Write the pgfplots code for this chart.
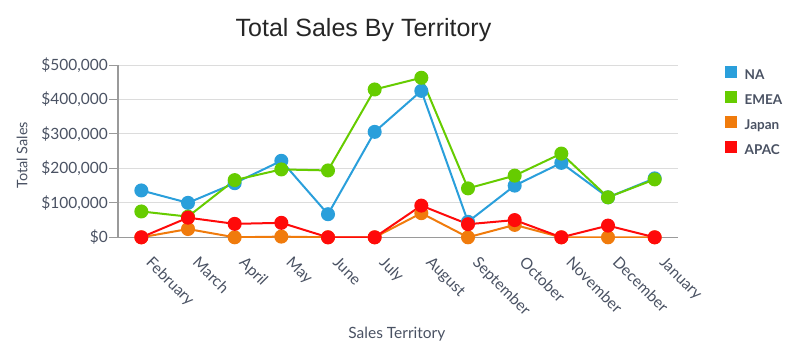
\documentclass[border=0pt]{standalone}
\usepackage{pgfplots}
\pgfplotsset{compat=1.18}
\usepackage{fontspec}
\setmainfont{Lato}
\newfontfamily\titlefont{Liberation Sans}
\definecolor{cNA}{HTML}{2A9FDB}
\definecolor{cEMEA}{HTML}{66CC00}
\definecolor{cJP}{HTML}{F07B0C}
\definecolor{cAPAC}{HTML}{FF0A0A}
\definecolor{txt}{HTML}{4A5263}
\definecolor{gridc}{HTML}{DCDCDC}
\definecolor{axc}{HTML}{9A9A9A}
\begin{document}
\begin{tikzpicture}
\begin{axis}[
  scale only axis, width=560pt, height=172.3pt,
  xmin=-0.5, xmax=11.5, ymin=0, ymax=500000,
  scaled y ticks=false,
  axis x line*=bottom, axis y line*=left,
  axis line style={axc, line width=1.2pt, -},
  xtick={0,...,11},
  xticklabels={February,March,April,May,June,July,August,September,October,November,December,January},
  xtick style={draw=none},
  minor xtick={0.5,1.5,...,10.5},
  minor tick style={axc, line width=1pt},
  ytick={0,100000,200000,300000,400000,500000},
  yticklabels={{\$0},{\$100,000},{\$200,000},{\$300,000},{\$400,000},{\$500,000}},
  ytick style={axc, line width=1pt},
  tick align=outside, major tick length=9pt, minor tick length=7pt,
  ymajorgrids, grid style={gridc, line width=1pt},
  ticklabel style={font=\fontsize{15.5}{17}\selectfont, text=txt},
  yticklabel style={inner sep=0pt, xshift=-1pt},
  xticklabel style={inner sep=0pt, xshift=12pt, yshift=-9pt, rotate=-45, anchor=north west},
  xlabel={Sales Territory},
  xlabel style={at={(axis description cs:0.498,-0.59)}, anchor=base, font=\fontsize{15.5}{17}\selectfont, text=txt},
  ylabel={Total Sales},
  ylabel style={at={(axis description cs:-0.162,0.476)}, anchor=base, rotate=0, font=\fontsize{14.5}{16}\selectfont, text=txt},
  legend style={at={(axis description cs:1,1)}, anchor=north west, xshift=47pt, yshift=-1pt,
    draw=none, fill=none, inner sep=0pt,
    nodes={inner sep=0pt, text height=10.5pt, text depth=3pt, font=\bfseries\fontsize{13.5}{15}\selectfont, text=txt},
    row sep=8.2pt, /tikz/every odd column/.append style={column sep=8pt}},
  legend cell align=left,
  legend image code/.code={\fill[#1, draw=none] (0pt,-1.5pt) rectangle (11.5pt,10pt);},
  every axis plot/.append style={line width=2pt, mark=*, mark size=6pt, mark options={solid}},
]
\addplot[cNA] coordinates {(0,136000) (1,100000) (2,157000) (3,222000) (4,67000) (5,306000) (6,425000) (7,45000) (8,150000) (9,216000) (10,116000) (11,171000)};
\addlegendentry{NA}
\addplot[cEMEA] coordinates {(0,75000) (1,60000) (2,166000) (3,197000) (4,194000) (5,429000) (6,463000) (7,142000) (8,179000) (9,243000) (10,116000) (11,168000)};
\addlegendentry{EMEA}
\addplot[cJP] coordinates {(0,0) (1,24000) (2,0) (3,2000) (4,0) (5,0) (6,70000) (7,0) (8,36000) (9,0) (10,0) (11,0)};
\addlegendentry{Japan}
\addplot[cAPAC] coordinates {(0,0) (1,57000) (2,39000) (3,42000) (4,0) (5,0) (6,92000) (7,38000) (8,50000) (9,0) (10,34000) (11,0)};
\addlegendentry{APAC}
\end{axis}
\node[font=\titlefont\fontsize{25}{28}\selectfont, text=black!85, anchor=base] at (245.5pt,200.3pt) {Total Sales By Territory};
\path[use as bounding box] (-118pt,-113.7pt) rectangle (682pt,237.3pt);
\end{tikzpicture}
\end{document}
